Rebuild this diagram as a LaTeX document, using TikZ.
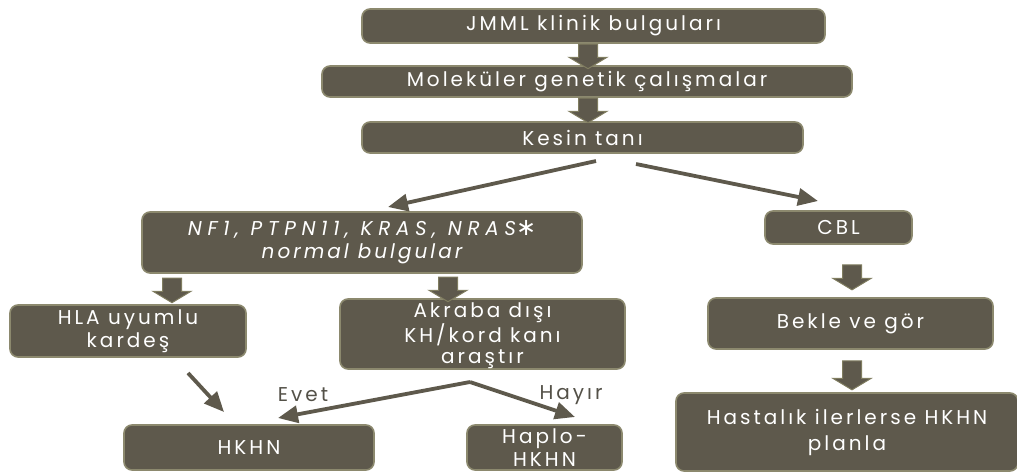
\documentclass[tikz,border=0pt]{standalone}
\usepackage{fontspec}
\setmainfont{Poppins}
\newfontfamily\spaced[LetterSpace=15]{Poppins}
\newfontfamily\wspaced[LetterSpace=28]{Poppins}
\newfontfamily\djv{DejaVu Sans}
\usetikzlibrary{arrows.meta,shapes.arrows}
\definecolor{boxfill}{RGB}{94,89,76}
\definecolor{boxline}{RGB}{140,137,110}
\definecolor{arrline}{RGB}{128,125,96}
\definecolor{lblcol}{RGB}{84,81,72}
\tikzset{
  x=1pt,y=-1pt,
  box/.style={draw=boxline, line width=1.6pt, fill=boxfill, rounded corners=8pt,
    text=white, inner sep=0pt, align=center, font=\spaced\fontsize{20}{23}\selectfont},
  boxtext/.style={text=white, inner sep=0pt, align=center, font=\spaced\fontsize{20}{21}\selectfont},
  blockarr/.style={shape=single arrow, shape border rotate=270, draw=arrline, line width=1pt,
    fill=boxfill, inner sep=9pt, minimum height=20pt, single arrow head extend=9.5pt,
    single arrow tip angle=118},
  linearr/.style={draw=boxfill, line width=3.8pt, -{Triangle[length=20pt,width=17pt]}},
  lbl/.style={text=lblcol, font=\spaced\fontsize{20}{20}\selectfont, inner sep=0pt}
}
\begin{document}
\begin{tikzpicture}
\useasboundingbox (0,0) rectangle (1017,474);
% boxes
\node[box, minimum width=463pt, minimum height=34pt] (jmml) at (593.5,26) {JMML klinik bulguları};
\node[box, minimum width=530pt, minimum height=31pt] (mol) at (587,81.5) {Moleküler genetik çalışmalar};
\node[box, minimum width=441pt, minimum height=31pt] (kesin) at (582.5,137.5) {Kesin tanı};
\node[box, minimum width=440pt, minimum height=61pt] (nf) at (362,242.5)
  {{\wspaced\itshape NF1, PTPN11, KRAS, NRAS}{\djv\fontsize{24}{20}\selectfont ∗}\\{\itshape normal bulgular}};
\node[box, minimum width=147pt, minimum height=33pt] (cbl) at (838.5,227.5) {CBL};
\node[box, minimum width=236pt, minimum height=52pt] (hla) at (128,331) {HLA uyumlu\\kardeş};
\node[box, minimum width=285pt, minimum height=70pt] (akr) at (482.5,334) {};
\node[boxtext] (akrt) at ([yshift=-2pt]akr.center) {Akraba dışı\\KH/kord kanı\\araştır};
\node[box, minimum width=285pt, minimum height=51pt] (bekle) at (850.5,323.5) {Bekle ve gör};
\node[box, minimum width=342pt, minimum height=78pt, font=\spaced\fontsize{20}{26}\selectfont] (hast) at (847,432) {Hastalık ilerlerse HKHN\\planla};
\node[box, minimum width=250pt, minimum height=45pt] (hkhn) at (249,447.5) {HKHN};
\node[box, minimum width=155pt, minimum height=45pt] (haplo) at (544.5,447.5) {Haplo-\\HKHN};
% block arrows
\node[blockarr, minimum height=19pt] (b1) at (588,53.5) {};
\node[blockarr, minimum height=19pt] (b2) at (588,107.5) {};
\node[blockarr, minimum height=19pt] (b3) at (172,287.5) {};
\node[blockarr, minimum height=21pt] (b4) at (448,286.5) {};
\node[blockarr, minimum height=25pt] (b5) at (852,274.5) {};
\node[blockarr, minimum height=29pt] (b6) at (852,372.5) {};
% line arrow end points
\coordinate (k1) at (596,161);
\coordinate (k1e) at (388,207);
\coordinate (k2) at (636,164);
\coordinate (k2e) at (818,201);
\coordinate (h1) at (188,373);
\coordinate (h1e) at (224,412);
\coordinate (j) at (470,382);
\coordinate (je1) at (278,418);
\coordinate (je2) at (575,417);
\draw[linearr] (k1) -- (k1e);
\draw[linearr] (k2) -- (k2e);
\draw[linearr] (h1) -- (h1e);
\draw[linearr] (j) -- (je1);
\draw[linearr] (j) -- (je2);
% labels
\node[lbl] (evet) at (303,395) {Evet};
\node[lbl] (hayir) at (571,395) {Hayır};
\end{tikzpicture}
\end{document}
